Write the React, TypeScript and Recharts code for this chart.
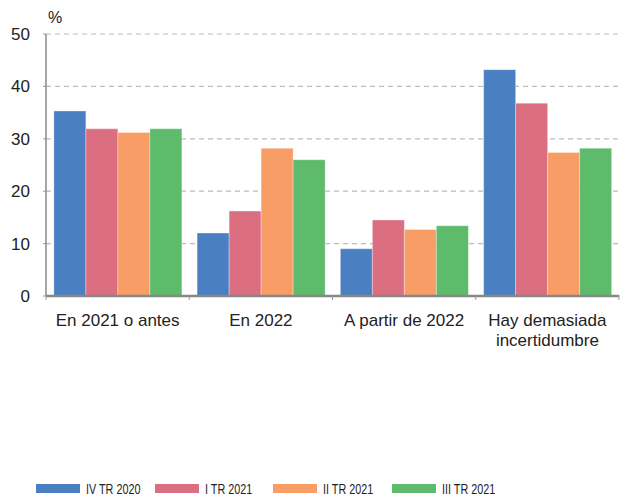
import { BarChart, Bar, XAxis, YAxis, CartesianGrid, Legend } from "recharts";

const categories = ["En 2021 o antes", "En 2022", "A partir de 2022", "Hay demasiada incertidumbre"];
const ivTr2020 = [35.3, 12.0, 9.0, 43.2];
const iTr2021 = [31.9, 16.2, 14.5, 36.8];
const iiTr2021 = [31.2, 28.2, 12.7, 27.4];
const iiiTr2021 = [31.9, 26.0, 13.4, 28.2];
const yTicks = [0, 10, 20, 30, 40, 50];

const series = [
  { key: "ivTr2020", name: "IV TR 2020", color: "#4a7fc1" },
  { key: "iTr2021", name: "I TR 2021", color: "#db6e80" },
  { key: "iiTr2021", name: "II TR 2021", color: "#f79d65" },
  { key: "iiiTr2021", name: "III TR 2021", color: "#5dbb6b" },
];

const data = categories.map((name, i) => ({
  name,
  ivTr2020: ivTr2020[i],
  iTr2021: iTr2021[i],
  iiTr2021: iiTr2021[i],
  iiiTr2021: iiiTr2021[i],
}));

const FONT = "'Liberation Sans', Arial, Helvetica, sans-serif";

// category label, wrapped on two lines when long, plus a small tick at the band edge
const CategoryTick = (props: any) => {
  const { x, y, payload, index } = props;
  const half = payload.offset || 0;
  const words = String(payload.value).split(" ");
  const lines = payload.value.length > 18 ? [words.slice(0, 2).join(" "), words.slice(2).join(" ")] : [payload.value];
  return (
    <g>
      <line x1={x - half} x2={x - half} y1={y - 4} y2={y - 9} stroke="#999" strokeWidth={1} />
      {index === categories.length - 1 && (
        <line x1={x + half} x2={x + half} y1={y - 4} y2={y - 9} stroke="#999" strokeWidth={1} />
      )}
      <text x={x} y={y + 22} textAnchor="middle" fill="#222" fontSize={17} fontFamily={FONT}>
        {lines.map((l, i) => (
          <tspan key={i} x={x} dy={i === 0 ? 0 : 19.5}>
            {l}
          </tspan>
        ))}
      </text>
    </g>
  );
};

// legend with a condensed look like the original
const LegendContent = () => (
  <div style={{ display: "flex", paddingLeft: 36, paddingTop: 7, fontFamily: FONT, fontSize: 15, lineHeight: "15px", color: "#222" }}>
    {series.map((s) => (
      <div key={s.key} style={{ display: "flex", alignItems: "center", width: 118.5, whiteSpace: "nowrap" }}>
        <span style={{ display: "inline-block", width: 44, height: 9, background: s.color, marginRight: 6, flex: "none" }} />
        <span style={{ display: "inline-block", transform: "scaleX(0.72)", transformOrigin: "left center" }}>{s.name}</span>
      </div>
    ))}
  </div>
);

export default function App() {
  return (
    <div style={{ position: "absolute", left: 0, top: 0, width: 620, height: 498, background: "#fff" }}>
      <BarChart
        width={620}
        height={498}
        data={data}
        margin={{ top: 34, right: 1, left: 0, bottom: 0 }}
        barCategoryGap="5.5%"
        barGap={0}
      >
        <CartesianGrid vertical={false} stroke="#bbb" strokeDasharray="5 4" strokeWidth={1.2} />
        <XAxis
          dataKey="name"
          height={178}
          interval={0}
          tickLine={false}
          axisLine={{ stroke: "#888", strokeWidth: 2.5 }}
          tick={<CategoryTick />}
        />
        <YAxis
          width={46}
          domain={[0, 50]}
          ticks={yTicks}
          interval={0}
          tickSize={3}
          tickMargin={13}
          axisLine={{ stroke: "#888", strokeWidth: 1.5 }}
          tickLine={{ stroke: "#999" }}
          tick={{ fill: "#222", fontSize: 17, fontFamily: FONT }}
          label={({ viewBox }: any) => (
            <text x={viewBox.x + viewBox.width + 2} y={viewBox.y - 11} fill="#222" fontSize={16} fontFamily={FONT}>
              %
            </text>
          )}
        />
        <Legend verticalAlign="bottom" height={24} content={<LegendContent />} />
        {series.map((s) => (
          <Bar key={s.key} dataKey={s.key} name={s.name} fill={s.color} stroke="#fff" strokeOpacity={0.4} strokeWidth={0.8} isAnimationActive={false} />
        ))}
      </BarChart>
    </div>
  );
}
